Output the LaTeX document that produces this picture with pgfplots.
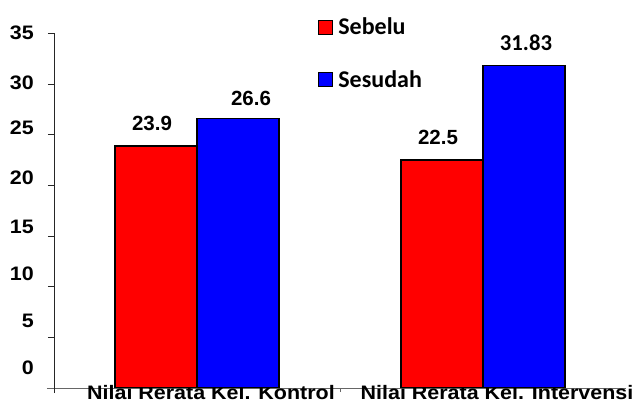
\documentclass[border=0pt]{standalone}
\usepackage{fontspec}
\setmainfont{Liberation Sans}
\newfontfamily\arialx[FakeStretch=1.1]{Liberation Sans}
\newfontfamily\carlito{Carlito}
\usepackage{pgfplots}
\usepackage{pgfplotstable}
\pgfplotsset{compat=1.18}

% value labels (offsets: 2*dx as leading space, dy as raise)
\newcommand\laba{\raisebox{15bp}{\hspace*{-8bp}23.9}}
\newcommand\labb{\raisebox{15bp}{\hspace*{-8bp}22.5}}
\newcommand\labc{\raisebox{13bp}{\hspace*{26bp}26.6}}
\newcommand\labd{\raisebox{15bp}{\hspace*{4bp}\carlito\fontsize{22.7bp}{24bp}\selectfont 31.83}}

\pgfplotstableread{
x y lab
0 23.9 a
1 22.5 b
}\sebelum
\pgfplotstableread{
x y lab
0 26.6 c
1 31.83 d
}\sesudah

\begin{document}
\begin{tikzpicture}
\begin{axis}[
  at={(54bp,15bp)}, anchor=south west,
  scale only axis, width=572bp, height=354.7bp,
  xmin=-0.5, xmax=1.5, ymin=0, ymax=35,
  axis x line*=bottom, axis y line*=left,
  x axis line style={-, draw=black!60, line width=0.9bp, shorten <=-7bp},
  y axis line style={-, draw=black!85, line width=0.9bp, shorten <=-5bp},
  /pgf/number format/assume math mode=true,
  tick align=outside, major tick length=6bp,
  ytick={0,5,...,35}, yticklabels={},
  y tick style={draw=black!85, line width=0.9bp},
  extra y ticks={35,30.1,25.65,20.7,15.85,11.3,6.65,2.0},
  extra y tick labels={35,30,25,20,15,10,5,0},
  extra y tick style={major tick length=0pt, y tick style={draw=none},
    yticklabel style={anchor=east, inner sep=0pt, xshift=-20bp,
      font=\arialx\bfseries\fontsize{19.5bp}{21bp}\selectfont}},
  xtick={0,1},
  xticklabels={Nilai Rerata Kel. Kontrol, Nilai Rerata Kel. Intervensi},
  x tick style={draw=none},
  xticklabel style={anchor=base, inner sep=0pt, yshift=-5bp, xshift=14bp,
    font=\arialx\bfseries\fontsize{19.5bp}{21bp}\selectfont},
  extra x ticks={0.5}, extra x tick labels={},
  extra x tick style={x tick style={draw=black!60, line width=0.9bp}, major tick length=4bp},
  ybar=0pt, bar width=82bp,
  nodes near coords={\csname lab\pgfplotspointmeta\endcsname},
  point meta=explicit symbolic,
  every node near coord/.append style={anchor=base, inner sep=0pt, text=black,
    font=\bfseries\fontsize{20.5bp}{22bp}\selectfont},
  legend style={at={(rel axis cs:0.4615,1.049)}, anchor=north west,
    draw=none, fill=none, inner sep=0pt, row sep=30bp,
    font=\carlito\bfseries\fontsize{24bp}{26bp}\selectfont,
    nodes={inner xsep=5bp}},
  legend cell align=left,
  legend image code/.code={\draw[#1, draw=black, line width=1.2bp] (0bp,-7bp) rectangle (14bp,7bp);},
]
\addplot[fill={rgb,255:red,255;green,0;blue,0}, draw=black, line width=1.5bp]
  table[x=x, y=y, meta=lab] {\sebelum};
\addlegendentry{Sebelu}
\addplot[fill={rgb,255:red,0;green,0;blue,255}, draw=black, line width=1.5bp]
  table[x=x, y=y, meta=lab] {\sesudah};
\addlegendentry{Sesudah}
\end{axis}
\pgfresetboundingbox
\useasboundingbox (0,0) rectangle (641bp,403bp);
\end{tikzpicture}
\end{document}
